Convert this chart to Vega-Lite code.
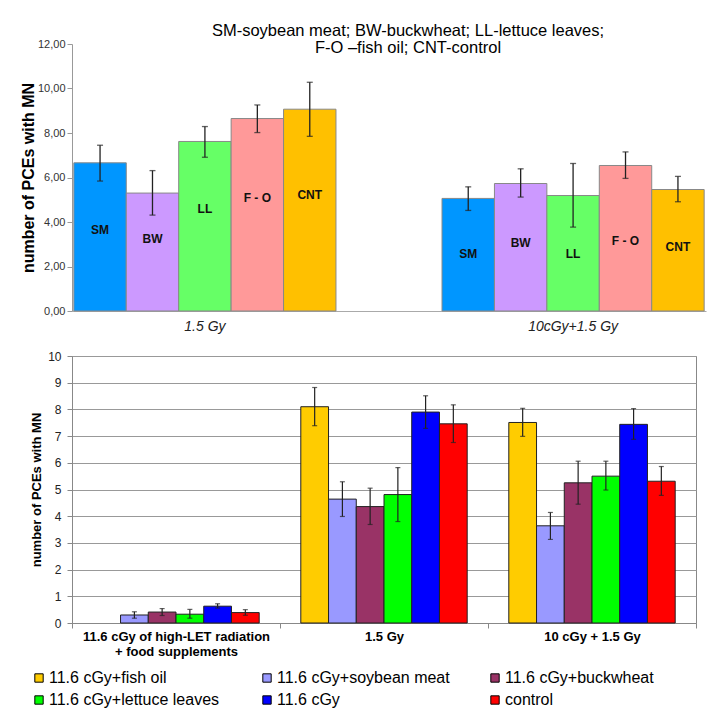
{
  "$schema": "https://vega.github.io/schema/vega-lite/v6.json",
  "padding": {"left": 20, "top": 22, "right": 5, "bottom": 5},
  "background": "#ffffff",
  "config": {"font": "Liberation Sans", "view": {"stroke": null}},
  "spacing": 16,
  "datasets": {
    "top": [
      {"group": "1.5 Gy", "supp": "SM", "value": 6.66, "lo": 5.84, "hi": 7.45, "labelY": 3.64},
      {"group": "1.5 Gy", "supp": "BW", "value": 5.30, "lo": 4.31, "hi": 6.31, "labelY": 3.23},
      {"group": "1.5 Gy", "supp": "LL", "value": 7.62, "lo": 6.91, "hi": 8.29, "labelY": 4.58},
      {"group": "1.5 Gy", "supp": "F - O", "value": 8.65, "lo": 8.02, "hi": 9.26, "labelY": 5.09},
      {"group": "1.5 Gy", "supp": "CNT", "value": 9.07, "lo": 7.85, "hi": 10.28, "labelY": 5.2},
      {"group": "10cGy+1.5 Gy", "supp": "SM", "value": 5.06, "lo": 4.52, "hi": 5.58, "labelY": 2.54},
      {"group": "10cGy+1.5 Gy", "supp": "BW", "value": 5.73, "lo": 5.12, "hi": 6.39, "labelY": 3.04},
      {"group": "10cGy+1.5 Gy", "supp": "LL", "value": 5.19, "lo": 3.77, "hi": 6.63, "labelY": 2.54},
      {"group": "10cGy+1.5 Gy", "supp": "F - O", "value": 6.54, "lo": 5.96, "hi": 7.15, "labelY": 3.14},
      {"group": "10cGy+1.5 Gy", "supp": "CNT", "value": 5.46, "lo": 4.91, "hi": 6.05, "labelY": 2.89}
    ],
    "bottom": [
      {"group": "11.6 cGy of high-LET radiation + food supplements", "supp": "11.6 cGy+soybean meat", "value": 0.3, "lo": 0.18, "hi": 0.42},
      {"group": "11.6 cGy of high-LET radiation + food supplements", "supp": "11.6 cGy+buckwheat", "value": 0.41, "lo": 0.28, "hi": 0.54},
      {"group": "11.6 cGy of high-LET radiation + food supplements", "supp": "11.6 cGy+lettuce leaves", "value": 0.33, "lo": 0.18, "hi": 0.51},
      {"group": "11.6 cGy of high-LET radiation + food supplements", "supp": "11.6 cGy", "value": 0.63, "lo": 0.56, "hi": 0.72},
      {"group": "11.6 cGy of high-LET radiation + food supplements", "supp": "control", "value": 0.39, "lo": 0.29, "hi": 0.5},
      {"group": "1.5 Gy", "supp": "11.6 cGy+fish oil", "value": 8.1, "lo": 7.39, "hi": 8.82},
      {"group": "1.5 Gy", "supp": "11.6 cGy+soybean meat", "value": 4.64, "lo": 3.99, "hi": 5.29},
      {"group": "1.5 Gy", "supp": "11.6 cGy+buckwheat", "value": 4.36, "lo": 3.69, "hi": 5.05},
      {"group": "1.5 Gy", "supp": "11.6 cGy+lettuce leaves", "value": 4.81, "lo": 3.8, "hi": 5.82},
      {"group": "1.5 Gy", "supp": "11.6 cGy", "value": 7.9, "lo": 7.29, "hi": 8.51},
      {"group": "1.5 Gy", "supp": "control", "value": 7.46, "lo": 6.76, "hi": 8.17},
      {"group": "10 cGy + 1.5 Gy", "supp": "11.6 cGy+fish oil", "value": 7.51, "lo": 6.99, "hi": 8.04},
      {"group": "10 cGy + 1.5 Gy", "supp": "11.6 cGy+soybean meat", "value": 3.64, "lo": 3.13, "hi": 4.14},
      {"group": "10 cGy + 1.5 Gy", "supp": "11.6 cGy+buckwheat", "value": 5.25, "lo": 4.45, "hi": 6.06},
      {"group": "10 cGy + 1.5 Gy", "supp": "11.6 cGy+lettuce leaves", "value": 5.5, "lo": 4.98, "hi": 6.06},
      {"group": "10 cGy + 1.5 Gy", "supp": "11.6 cGy", "value": 7.44, "lo": 6.88, "hi": 8.03},
      {"group": "10 cGy + 1.5 Gy", "supp": "control", "value": 5.31, "lo": 4.78, "hi": 5.86}
    ]
  },
  "vconcat": [
    {
      "width": 634,
      "height": 267,
      "title": {
        "text": ["SM-soybean meat; BW-buckwheat; LL-lettuce leaves;", "F-O \u2013fish oil; CNT-control"],
        "fontSize": 16.5, "fontWeight": "normal", "anchor": "middle", "dx": 19, "offset": -18, "lineHeight": 17, "color": "#000"
      },
      "data": {"name": "top"},
      "encoding": {
        "x": {
          "field": "group", "type": "nominal", "sort": ["1.5 Gy", "10cGy+1.5 Gy"],
          "scale": {"paddingInner": 0.288, "paddingOuter": 0.005},
          "axis": {"title": null, "labelAngle": 0, "labelFontStyle": "italic", "labelFontSize": 14, "labelColor": "#222", "ticks": false, "domainColor": "#aaa", "labelPadding": 8}
        },
        "xOffset": {
          "field": "supp", "type": "nominal", "sort": ["SM", "BW", "LL", "F - O", "CNT"],
          "scale": {"paddingInner": 0, "paddingOuter": 0}
        }
      },
      "layer": [
        {
          "mark": {"type": "bar", "stroke": "#888", "strokeWidth": 1},
          "encoding": {
            "y": {
              "field": "value", "type": "quantitative", "title": "number of PCEs with MN",
              "scale": {"domain": [0, 12]},
              "axis": {"titleFontSize": 16, "titleFontWeight": "bold", "titleColor": "#000", "values": [0, 2, 4, 6, 8, 10, 12],
                "labelExpr": "replace(format(datum.value, '.2f'), '.', ',')", "labelFontSize": 11, "labelColor": "#333",
                "grid": false, "domainColor": "#999", "tickColor": "#999", "tickSize": 5, "labelPadding": 2, "titlePadding": 1}
            },
            "color": {
              "field": "supp", "type": "nominal",
              "scale": {"domain": ["SM", "BW", "LL", "F - O", "CNT"], "range": ["#0096FF", "#CC99FF", "#66FF66", "#FF9999", "#FFC000"]},
              "legend": null
            }
          }
        },
        {
          "mark": {"type": "rule", "color": "#222", "strokeWidth": 1.3},
          "encoding": {"y": {"field": "lo", "type": "quantitative", "title": "number of PCEs with MN"}, "y2": {"field": "hi"}}
        },
        {
          "mark": {"type": "tick", "color": "#222", "thickness": 1.3, "size": 6},
          "encoding": {"y": {"field": "lo", "type": "quantitative", "title": "number of PCEs with MN"}}
        },
        {
          "mark": {"type": "tick", "color": "#222", "thickness": 1.3, "size": 6},
          "encoding": {"y": {"field": "hi", "type": "quantitative", "title": "number of PCEs with MN"}}
        },
        {
          "mark": {"type": "text", "fontWeight": "bold", "fontSize": 12, "color": "#111"},
          "encoding": {"y": {"field": "labelY", "type": "quantitative", "title": "number of PCEs with MN"}, "text": {"field": "supp"}}
        }
      ]
    },
    {
      "width": 624,
      "height": 267,
      "view": {"stroke": "#888"},
      "data": {"name": "bottom"},
      "encoding": {
        "x": {
          "field": "group", "type": "nominal", "sort": ["11.6 cGy of high-LET radiation + food supplements", "1.5 Gy", "10 cGy + 1.5 Gy"],
          "scale": {"paddingInner": 0, "paddingOuter": 0},
          "axis": {"title": null, "labelAngle": 0, "labelFontWeight": "bold", "labelFontSize": 13, "labelColor": "#000", "tickBand": "extent",
            "tickSize": 5, "tickColor": "#888", "domainColor": "#888", "labelPadding": 2, "labelLineHeight": 15, "labelLimit": 300,
            "labelExpr": "datum.value == '11.6 cGy of high-LET radiation + food supplements' ? ['11.6 cGy of high-LET radiation', '+ food supplements'] : datum.value"}
        },
        "xOffset": {
          "field": "supp", "type": "nominal",
          "scale": {"domain": ["11.6 cGy+fish oil", "11.6 cGy+soybean meat", "11.6 cGy+buckwheat", "11.6 cGy+lettuce leaves", "11.6 cGy", "control"], "paddingInner": 0, "paddingOuter": 0.75}
        }
      },
      "layer": [
        {
          "mark": {"type": "bar", "stroke": "#222", "strokeWidth": 1},
          "encoding": {
            "y": {
              "field": "value", "type": "quantitative", "title": "number of PCEs with MN",
              "scale": {"domain": [0, 10]},
              "axis": {"titleFontSize": 13, "titleFontWeight": "bold", "titleColor": "#000", "values": [0, 1, 2, 3, 4, 5, 6, 7, 8, 9, 10],
                "grid": true, "gridColor": "#999", "labelFontSize": 12, "labelColor": "#222", "tickSize": 5, "tickColor": "#888",
                "domainColor": "#888", "labelPadding": 6, "titlePadding": 4}
            },
            "color": {
              "field": "supp", "type": "nominal",
              "scale": {"domain": ["11.6 cGy+fish oil", "11.6 cGy+soybean meat", "11.6 cGy+buckwheat", "11.6 cGy+lettuce leaves", "11.6 cGy", "control"],
                "range": ["#FFCC00", "#9999FF", "#993366", "#00FF00", "#0000FF", "#FF0000"]},
              "legend": {"orient": "none", "direction": "horizontal", "legendX": -41, "legendY": 314, "columns": 3, "title": null, "labelFontSize": 16, "labelColor": "#000",
                "symbolType": "square", "symbolSize": 70, "symbolStrokeColor": "#000", "symbolStrokeWidth": 1, "gridAlign": "all",
                "columnPadding": 37, "rowPadding": 6, "labelOffset": 2, "labelLimit": 300, "padding": 0}
            }
          }
        },
        {
          "mark": {"type": "rule", "color": "#222", "strokeWidth": 1.2},
          "encoding": {"y": {"field": "lo", "type": "quantitative", "title": "number of PCEs with MN",
            "axis": {"titleFontSize": 13, "titleFontWeight": "bold", "titleColor": "#000", "values": [0, 1, 2, 3, 4, 5, 6, 7, 8, 9, 10],
                "grid": true, "gridColor": "#999", "labelFontSize": 12, "labelColor": "#222", "tickSize": 5, "tickColor": "#888",
                "domainColor": "#888", "labelPadding": 6, "titlePadding": 4}}, "y2": {"field": "hi"}}
        },
        {
          "mark": {"type": "tick", "color": "#222", "thickness": 1.2, "size": 5},
          "encoding": {"y": {"field": "lo", "type": "quantitative", "title": "number of PCEs with MN",
            "axis": {"titleFontSize": 13, "titleFontWeight": "bold", "titleColor": "#000", "values": [0, 1, 2, 3, 4, 5, 6, 7, 8, 9, 10],
                "grid": true, "gridColor": "#999", "labelFontSize": 12, "labelColor": "#222", "tickSize": 5, "tickColor": "#888",
                "domainColor": "#888", "labelPadding": 6, "titlePadding": 4}}}
        },
        {
          "mark": {"type": "tick", "color": "#222", "thickness": 1.2, "size": 5},
          "encoding": {"y": {"field": "hi", "type": "quantitative", "title": "number of PCEs with MN",
            "axis": {"titleFontSize": 13, "titleFontWeight": "bold", "titleColor": "#000", "values": [0, 1, 2, 3, 4, 5, 6, 7, 8, 9, 10],
                "grid": true, "gridColor": "#999", "labelFontSize": 12, "labelColor": "#222", "tickSize": 5, "tickColor": "#888",
                "domainColor": "#888", "labelPadding": 6, "titlePadding": 4}}}
        }
      ]
    }
  ],
  "resolve": {"scale": {"color": "independent", "x": "independent", "y": "independent", "xOffset": "independent"}}
}
